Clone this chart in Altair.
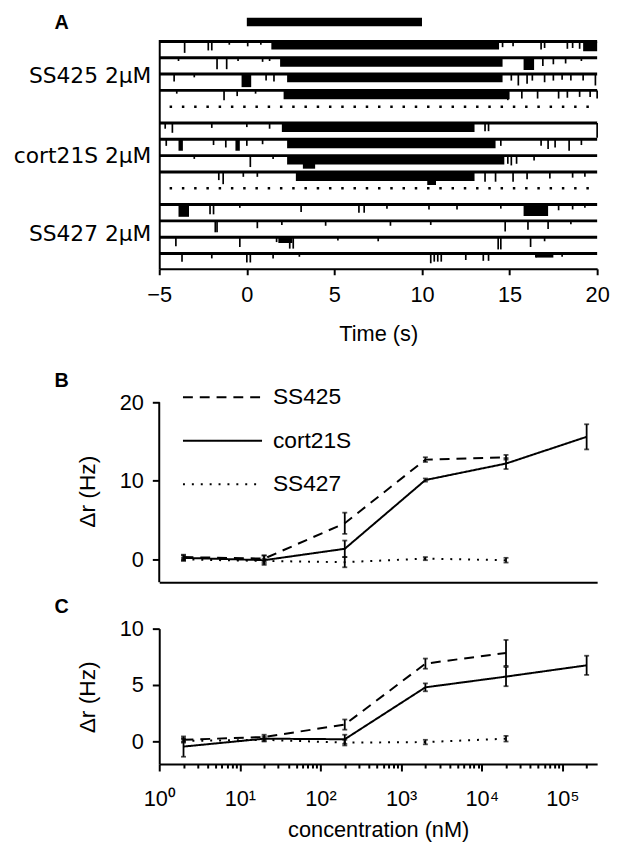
import altair as alt
import pandas as pd

FONT = "Liberation Sans"
LABEL_FONT = "DejaVu Sans"

# ---------------- Panel A : spike traces ----------------
time_ticks = [-5, 0, 5, 10, 15, 20]
stimulus = [0, 10]
group_names = ["SS425 2μM", "cort21S 2μM", "SS427 2μM"]
group_label_row = [2.1, 7.0, 11.8]
group_trace_rows = [[0, 1, 2, 3], [5, 6, 7, 8], [10, 11, 12, 13]]
separator_rows = [4, 9]

# spikes: (time s, amplitude in trace units)
ss425_spikes = [
    [(-3.55, 0.7), (-2.2, 0.55), (-2.0, 0.55), (-1.0, 0.2), (0.05, 0.3), (0.8, 0.2), (14.6, 0.35),
     (15.2, 0.3), (16.8, 0.5), (17.0, 0.4), (18.3, 0.45), (18.6, 0.4), (19.0, 0.45)],
    [(-3.9, 0.2), (-1.7, 0.7), (-1.15, 0.7), (-0.5, 0.2), (0.9, 0.25), (1.3, 0.2), (16.9, 0.5),
     (17.5, 0.4), (18.2, 0.35), (19.1, 0.2)],
    [(-4.15, 0.45), (-3.0, 0.2), (1.1, 0.4), (1.55, 0.45), (15.1, 0.4), (15.5, 0.7), (16.0, 0.6),
     (16.3, 0.4), (17.0, 0.5), (17.5, 0.4), (18.0, 0.35), (18.5, 0.4), (19.2, 0.4), (19.9, 0.7)],
    [(-4.0, 0.2), (-1.3, 0.6), (-0.55, 0.35), (0.5, 0.2), (14.9, 0.6), (15.7, 0.5), (16.6, 0.5),
     (17.8, 0.5), (18.3, 0.45), (19.0, 0.4), (19.6, 0.4), (20.0, 0.5)],
]
# bursts: (start s, end s, depth in trace units)
ss425_bursts = [
    [(1.4, 14.4, 0.5), (19.2, 20.0, 0.6)],
    [(1.9, 14.6, 0.55), (15.8, 16.4, 0.75)],
    [(-0.3, 0.25, 0.8), (2.3, 14.6, 0.5)],
    [(2.1, 15.0, 0.55)],
]

cort21s_spikes = [
    [(-4.66, 0.35), (-4.25, 0.6), (-2.0, 0.3), (0.0, 0.25), (1.3, 0.35), (13.6, 0.5), (13.8, 0.5),
     (20.0, 0.9)],
    [(-4.6, 0.4), (-1.9, 0.35), (-1.2, 0.5), (0.0, 0.4), (0.9, 0.3), (14.5, 0.4), (16.8, 0.4),
     (17.2, 0.6), (17.6, 0.5), (18.4, 0.7), (19.1, 0.35)],
    [(-3.0, 0.2), (0.2, 0.7), (1.5, 0.2), (13.3, 0.5), (13.6, 0.45), (14.0, 0.4), (14.9, 0.5),
     (15.1, 0.6), (15.4, 0.5), (16.4, 0.3)],
    [(-1.6, 0.5), (-1.35, 0.75), (-0.2, 0.3), (0.6, 0.3), (13.6, 0.6), (14.2, 0.6), (15.2, 0.6),
     (16.0, 0.45), (17.3, 0.4), (18.6, 0.35), (19.3, 0.3)],
]
cort21s_bursts = [
    [(2.0, 13.0, 0.55)],
    [(-3.9, -3.65, 0.7), (-0.65, -0.4, 0.7), (2.3, 14.2, 0.55)],
    [(2.3, 14.7, 0.55), (3.2, 3.9, 0.8)],
    [(2.8, 13.0, 0.55), (10.3, 10.8, 0.8)],
]

ss427_spikes = [
    [(-2.1, 0.6), (-1.9, 0.6), (-0.4, 0.2), (3.1, 0.45), (6.4, 0.5), (6.7, 0.5), (8.0, 0.25),
     (10.4, 0.3), (12.0, 0.3), (14.5, 0.25), (17.8, 0.35), (18.6, 0.3), (19.3, 0.2)],
    [(-1.8, 0.7), (-1.7, 0.7), (0.6, 0.45), (2.0, 0.25), (4.5, 0.3), (8.2, 0.3), (10.5, 0.25),
     (14.75, 0.65), (16.05, 0.55), (17.2, 0.5), (18.5, 0.2)],
    [(-4.05, 0.55), (-0.4, 0.6), (1.7, 0.3), (2.45, 0.7), (2.65, 0.7), (5.2, 0.2), (7.5, 0.25),
     (14.35, 0.75), (14.5, 0.75), (16.2, 0.6), (17.0, 0.25)],
    [(-3.7, 0.5), (-2.0, 0.3), (0.0, 0.55), (0.2, 0.55), (1.5, 0.3), (3.0, 0.2), (10.5, 0.6),
     (10.7, 0.5), (10.9, 0.5), (11.1, 0.5), (12.5, 0.4), (13.5, 0.45), (13.8, 0.45), (16.5, 0.25),
     (18.0, 0.2)],
]
ss427_bursts = [
    [(-3.9, -3.3, 0.75), (15.8, 17.2, 0.7)],
    [],
    [(1.8, 2.6, 0.35)],
    [(16.5, 17.5, 0.25)],
]

# ---------------- Panels B and C : dose response ----------------
conc = [2, 20, 200, 2000, 20000, 200000]
series = ["SS425", "cort21S", "SS427"]

b_ss425 = [0.3, 0.1, 4.6, 12.7, 13.0]
b_ss425_err = [0.3, 0.4, 1.35, 0.3, 0.3]
b_cort = [0.2, -0.1, 1.35, 10.1, 12.2, 15.6]
b_cort_err = [0.3, 0.6, 1.05, 0.2, 0.7, 1.6]
b_ss427 = [0.0, -0.2, -0.35, 0.1, -0.1]
b_ss427_err = [0.2, 0.3, 0.65, 0.2, 0.3]

c_ss425 = [0.15, 0.4, 1.5, 6.9, 7.85]
c_ss425_err = [0.15, 0.2, 0.45, 0.45, 1.15]
c_cort = [-0.45, 0.25, 0.2, 4.8, 5.75, 6.75]
c_cort_err = [0.9, 0.2, 0.4, 0.35, 0.85, 0.85]
c_ss427 = [0.05, 0.15, -0.1, -0.05, 0.25]
c_ss427_err = [0.15, 0.15, 0.25, 0.2, 0.25]

conc_major = [1, 10, 100, 1000, 10000, 100000]
superscripts = ["⁰", "¹", "²", "³", "⁴", "⁵"]
conc_minor = [m * p for p in conc_major[:-1] for m in range(2, 10)] + [200000]

# ---------------- build tables ----------------
spk, bst, base = [], [], []
for g, (sl, bl) in enumerate([(ss425_spikes, ss425_bursts),
                              (cort21s_spikes, cort21s_bursts),
                              (ss427_spikes, ss427_bursts)]):
    for k in range(4):
        r = group_trace_rows[g][k]
        base.append({"r": r})
        for t, a in sl[k]:
            spk.append({"t": t, "r0": r, "r1": r + a})
        for t0, t1, a in bl[k]:
            bst.append({"t0": t0, "t1": t1, "r0": r, "r1": r + a})
df_spk = pd.DataFrame(spk)
df_bst = pd.DataFrame(bst)
df_base = pd.DataFrame(base)
df_sep = pd.DataFrame({"r": separator_rows})
df_lab = pd.DataFrame({"label": group_names, "r": group_label_row})
df_stim = pd.DataFrame({"on": [stimulus[0]], "off": [stimulus[1]]})


def dose_df(triples):
    rows = []
    for name, mean, err in triples:
        for c, m, e in zip(conc, mean, err):
            rows.append({"series": name, "conc": c, "mean": m, "lo": m - e, "hi": m + e})
    return pd.DataFrame(rows)


df_b = dose_df([("SS425", b_ss425, b_ss425_err), ("cort21S", b_cort, b_cort_err),
                ("SS427", b_ss427, b_ss427_err)])
df_c = dose_df([("SS425", c_ss425, c_ss425_err), ("cort21S", c_cort, c_cort_err),
                ("SS427", c_ss427, c_ss427_err)])

# ---------------- Panel A chart ----------------
W = 443
HA, HB, HC = 232, 270, 137
GAP = 47

xsA = alt.Scale(domain=[-5, 20], nice=False, zero=False)
axA = alt.Axis(values=time_ticks, title="Time (s)", tickSize=6, labelPadding=10,
               titlePadding=19, labelFlush=False)
ysA = alt.Scale(domain=[-0.12, 13.94], reverse=True, nice=False, zero=False)
ayA = alt.Axis(title=None, labels=False, ticks=False)

one = pd.DataFrame({"k": [0]})

a_base = alt.Chart(df_base).mark_rule(color="black", strokeWidth=3).encode(
    x=alt.value(0), x2=alt.value(W), y=alt.Y("r:Q", scale=ysA, axis=ayA))
a_burst = alt.Chart(df_bst).mark_rect(color="black").encode(
    x=alt.X("t0:Q", scale=xsA, axis=axA), x2="t1:Q",
    y=alt.Y("r0:Q", scale=ysA, axis=ayA), y2="r1:Q")
a_spk = alt.Chart(df_spk).mark_rule(color="black", strokeWidth=1.7).encode(
    x=alt.X("t:Q", scale=xsA, axis=axA),
    y=alt.Y("r0:Q", scale=ysA, axis=ayA), y2="r1:Q")
a_sep = alt.Chart(df_sep).mark_rule(color="black", strokeWidth=2.5, strokeDash=[2.5, 9.9]).encode(
    x=alt.value(10.5), x2=alt.value(W), y=alt.Y("r:Q", scale=ysA, axis=ayA))
a_stim = alt.Chart(df_stim).mark_rect(color="black").encode(
    x=alt.X("on:Q", scale=xsA, axis=axA), x2="off:Q",
    y=alt.value(-22), y2=alt.value(-13.5))
a_lab = alt.Chart(df_lab).mark_text(align="right", baseline="middle", font=LABEL_FONT,
                                    fontSize=22, color="black").encode(
    x=alt.value(-8), y=alt.Y("r:Q", scale=ysA, axis=ayA), text="label:N")
a_letter = alt.Chart(one).mark_text(text="A", align="left", baseline="top", font=FONT,
                                    fontSize=20, fontWeight="bold", color="black").encode(
    x=alt.value(-106), y=alt.value(-27))

panel_a = alt.layer(a_base, a_burst, a_spk, a_sep, a_stim, a_lab, a_letter).properties(
    width=W, height=HA)

# ---------------- Panels B and C ----------------
xs = alt.Scale(type="log", domain=[1, 2.7e5], nice=False)
dash = alt.Scale(domain=series, range=[[10, 7], [1, 0], [2, 7]])


def dose_panel(df, ydom, yticks, height, xaxis, letter, letter_y, legend, title_y):
    ys = alt.Scale(domain=ydom, nice=False, zero=False)
    yax = alt.Axis(values=yticks, title="Δr (Hz)", tickSize=7, labelPadding=9,
                   titlePadding=20, titleY=title_y, titleFontSize=23,
                   domain=(legend is None))
    lines = alt.Chart(df).mark_line(color="black", strokeWidth=2).encode(
        x=alt.X("conc:Q", scale=xs, axis=xaxis),
        y=alt.Y("mean:Q", scale=ys, axis=yax),
        strokeDash=alt.StrokeDash("series:N", scale=dash, legend=legend))
    bars = alt.Chart(df).mark_errorbar(ticks=True, size=5, thickness=1.8, color="black").encode(
        x=alt.X("conc:Q", scale=xs, axis=xaxis),
        y=alt.Y("lo:Q", scale=ys, axis=yax), y2="hi:Q", detail="series:N")
    letter_mark = alt.Chart(one).mark_text(text=letter, align="left", baseline="alphabetic",
                                           font=FONT, fontSize=20, fontWeight="bold",
                                           color="black").encode(
        x=alt.value(-106), y=alt.value(letter_y))
    layers = [lines, bars, letter_mark]
    if legend is not None:
        axis_line = alt.Chart(one).mark_rule(color="black", strokeWidth=2).encode(
            x=alt.value(0), y=alt.datum(yticks[-1], scale=ys), y2=alt.datum(ydom[0]))
        layers.append(axis_line)
    return alt.layer(*layers).properties(width=W, height=height)


# legend coordinates are measured from the top-left of the first panel's plot area
legend_b = alt.Legend(orient="none", legendX=23, legendY=HA + GAP + 72, title=None,
                      symbolType="stroke", symbolSize=6400, symbolStrokeWidth=2,
                      symbolStrokeColor="black", clipHeight=22, rowPadding=21,
                      labelFont=FONT, labelFontSize=23, labelColor="black", labelOffset=10,
                      padding=0)
xaxis_b = alt.Axis(labels=False, ticks=False, title=None)
panel_b = dose_panel(df_b, [-2.9, 31.07], [0, 10, 20], HB, xaxis_b, "B", 73, legend_b, 178)

label_expr = " : ".join(
    f"datum.value == {v} ? '10{s}'" for v, s in zip(conc_major, superscripts)) + " : ''"
major_test = "indexof([" + ",".join(str(v) for v in conc_major) + "], datum.value) >= 0"
xaxis_c = alt.Axis(values=sorted(conc_major + conc_minor), labelExpr=label_expr,
                   tickSize={"condition": {"test": major_test, "value": 7}, "value": 4},
                   labelPadding=18, labelFlush=False, labelOverlap=False,
                   title="concentration (nM)", titlePadding=10)
panel_c = dose_panel(df_c, [-2, 10], [0, 5, 10], HC, xaxis_c, "C", -16, None, 69)

chart = alt.vconcat(panel_a, panel_b, panel_c, spacing=GAP, bounds="flush").properties(
    padding={"left": 5, "top": 0, "right": 0, "bottom": 0}
).configure_view(stroke=None).configure_axis(
    grid=False, domainColor="black", domainWidth=2, tickColor="black", tickWidth=2,
    labelFont=FONT, labelFontSize=22, labelColor="black",
    titleFont=FONT, titleFontSize=22, titleFontWeight="normal", titleColor="black"
)

chart.save("out.html", embed_options={"renderer": "svg", "actions": False})
